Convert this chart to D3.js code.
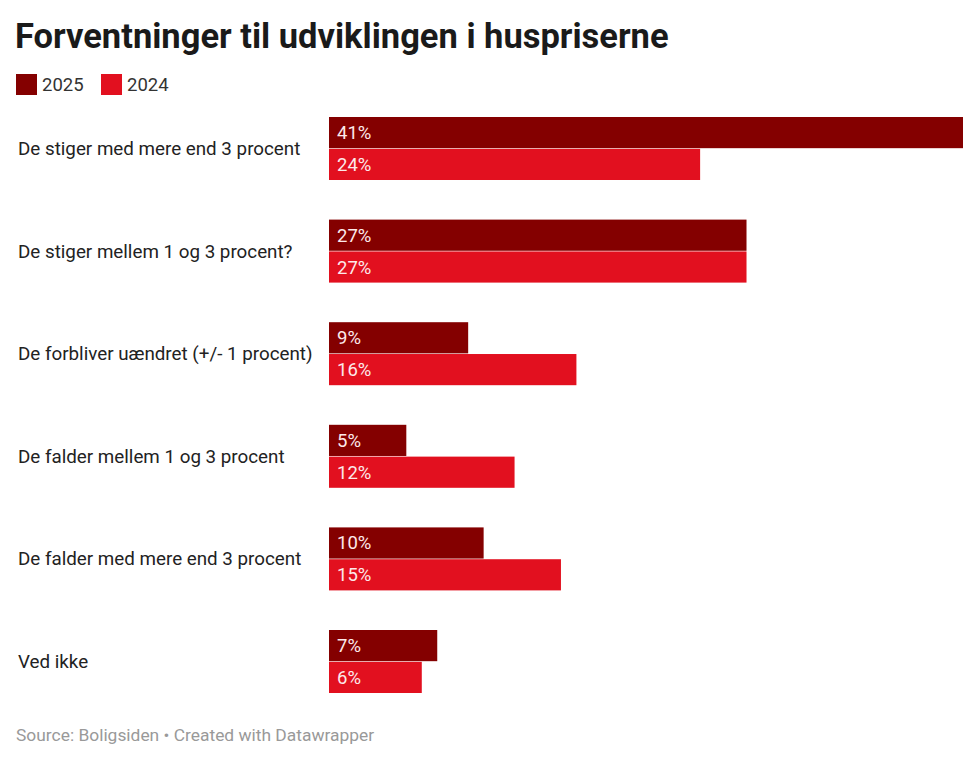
<!DOCTYPE html>
<html><head><meta charset="utf-8">
<script src="https://cdn.jsdelivr.net/npm/d3@7"></script>
<style>body{margin:0;background:#fff}</style>
</head><body><svg id="c" width="980" height="762"></svg>
<script>
const categories = ["De stiger med mere end 3 procent","De stiger mellem 1 og 3 procent?","De forbliver uændret (+/- 1 procent)","De falder mellem 1 og 3 procent","De falder med mere end 3 procent","Ved ikke"];
const seriesNames = ["2025","2024"];
const values2025 = [41,27,9,5,10,7];
const values2024 = [24,27,16,12,15,6];
const colors = ["#840000","#e2101f"];

const svg = d3.select("#c");
const font = "Roboto, 'Liberation Sans', sans-serif";
svg.append("rect").attr("width",980).attr("height",762).attr("fill","#fff");

svg.append("text").attr("x",15).attr("y",48).text("Forventninger til udviklingen i huspriserne")
  .attr("font-family",font).attr("font-weight",700).attr("font-size",34.5).attr("fill","#1a1a1a");

// legend
const legendX = [16,101];
seriesNames.forEach((s,i)=>{
  svg.append("rect").attr("x",legendX[i]).attr("y",74).attr("width",21).attr("height",21).attr("fill",colors[i]);
  svg.append("text").attr("x",legendX[i]+26).attr("y",91).text(s).attr("font-family",font).attr("font-size",18.5).attr("fill","#333");
});

const x = d3.scaleLinear().domain([0,41]).range([329,963]);
const y = d3.scaleBand().domain(categories).range([117,693]).paddingInner(0.386).paddingOuter(0);
const sub = d3.scaleBand().domain(seriesNames).range([0,y.bandwidth()]).paddingInner(0.02);

const g = svg.append("g");
categories.forEach((c,ci)=>{
  const gy = y(c);
  g.append("text").attr("x",18).attr("y",gy+y.bandwidth()/2+6.5).text(c)
    .attr("font-family",font).attr("font-size",18.8).attr("fill","#222");
  [values2025[ci],values2024[ci]].forEach((v,si)=>{
    const by = gy+sub(seriesNames[si]);
    g.append("rect").attr("x",x(0)).attr("y",by).attr("width",x(v)-x(0)).attr("height",sub.bandwidth()).attr("fill",colors[si]);
    g.append("text").attr("x",x(0)+8).attr("y",by+sub.bandwidth()/2+6.5).text(v+"%")
      .attr("font-family",font).attr("font-size",18.5).attr("fill","#fde9ea");
  });
});

svg.append("text").attr("x",16).attr("y",741).text("Source: Boligsiden • Created with Datawrapper")
  .attr("font-family",font).attr("font-size",17.4).attr("fill","#999");
</script></body></html>
